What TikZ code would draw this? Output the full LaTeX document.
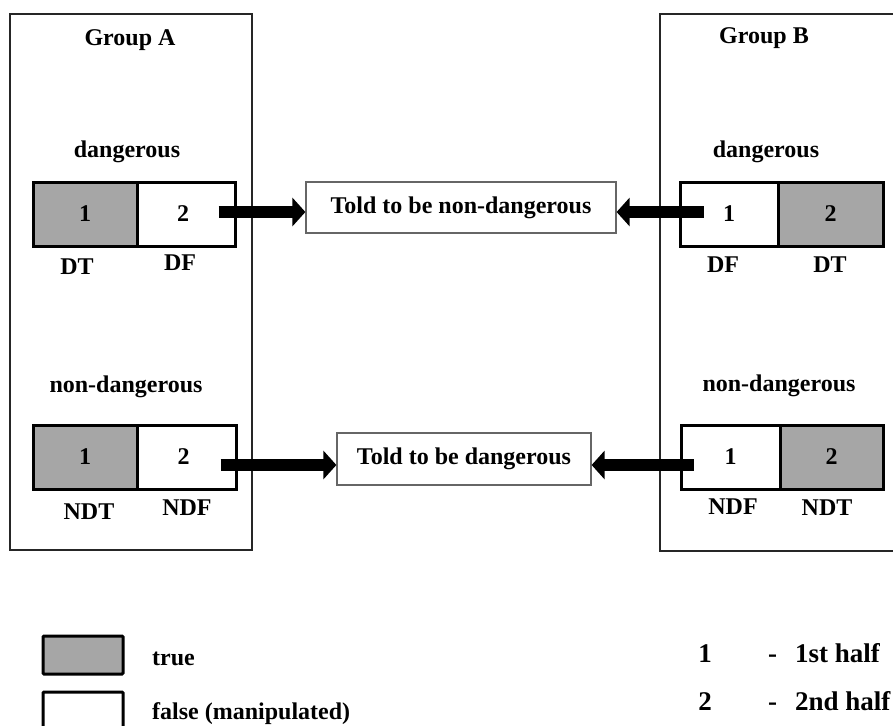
\documentclass[tikz,border=0pt]{standalone}
\usepackage{fontspec}
\setmainfont{Liberation Serif}
\usetikzlibrary{arrows.meta}
\definecolor{cellgray}{RGB}{166,166,166}
\begin{document}
\begin{tikzpicture}[x=1pt,y=-1pt,
  txt/.style={font=\fontsize{24}{28}\selectfont\bfseries, inner sep=0pt},
  bigtxt/.style={font=\fontsize{27}{31}\selectfont\bfseries, inner sep=0pt},
  groupbox/.style={draw=black!85, line width=1.6pt, inner sep=0pt},
  cell/.style={draw=black, line width=3pt, minimum height=64pt, inner sep=0pt, font=\fontsize{24}{28}\selectfont\bfseries},
  tcell/.style={cell, fill=cellgray},
  fcell/.style={cell, fill=white},
  msg/.style={draw=black!60, line width=1.2pt, fill=white, inner sep=0pt, font=\fontsize{24}{28}\selectfont\bfseries},
  bigarrow/.style={line width=12pt, -{Triangle[length=13pt,width=28pt]}},
  legbox/.style={draw=black, line width=3pt, rounded corners=1pt},
]
\useasboundingbox (0,0) rectangle (893,725);
\clip (0,0) rectangle (893,725);
\fill[white] (0,0) rectangle (893,725);

% group frames
\node[groupbox, minimum width=242pt, minimum height=536pt] (ga) at (131,282) {};
\node[groupbox, minimum width=250pt, minimum height=537pt] (gb) at (785,282.5) {};

% headings
\node[txt] (gat) at (130,40) {Group A};
\node[txt] (gbt) at (764,38) {Group B};
\node[txt] (ad) at (127,152) {dangerous};
\node[txt] (bd) at (766,152) {dangerous};
\node[txt] (and) at (126,387) {non-dangerous};
\node[txt] (bnd) at (779,386) {non-dangerous};

% messages
\node[msg, minimum width=310pt, minimum height=51pt] (m1) at (461,207.5) {Told to be non-dangerous};
\node[msg, minimum width=254pt, minimum height=52pt] (m2) at (464,459) {Told to be dangerous};

% Group A cells
\node[tcell, minimum width=104pt] (a11) at (85,214) {1};
\node[fcell, minimum width=98pt] (a12) at (186,214) {\hspace*{-6pt}2};
\node[tcell, minimum width=104pt] (a21) at (85,457) {1};
\node[fcell, minimum width=99pt] (a22) at (186.5,457) {\hspace*{-6pt}2};

% Group B cells
\node[fcell, minimum width=98pt] (b11) at (729,214) {1};
\node[tcell, minimum width=105pt] (b12) at (830.5,214) {2};
\node[fcell, minimum width=99pt] (b21) at (730.5,457) {1};
\node[tcell, minimum width=103pt] (b22) at (831.5,457) {2};

% cell labels
\node[txt] (ldt) at (77,267) {DT};
\node[txt] (ldf) at (180,263) {DF};
\node[txt] (rdf) at (723,265) {DF};
\node[txt] (rdt) at (830,265) {DT};
\node[txt] (lndt) at (89,512) {NDT};
\node[txt] (lndf) at (187,508) {NDF};
\node[txt] (rndf) at (733,507) {NDF};
\node[txt] (rndt) at (827,508) {NDT};

% arrows
\coordinate (ta1) at ([xshift=-18pt,yshift=2pt]a12.east);
\coordinate (tb1) at ([xshift=25pt,yshift=2pt]b11.west);
\coordinate (ta2) at ([xshift=-17pt,yshift=-8pt]a22.east);
\coordinate (tb2) at ([xshift=14pt,yshift=-8pt]b21.west);
\draw[bigarrow] (ta1) -- (ta1 -| m1.west);
\draw[bigarrow] (tb1) -- (tb1 -| m1.east);
\draw[bigarrow] (ta2) -- (ta2 -| m2.west);
\draw[bigarrow] (tb2) -- (tb2 -| m2.east);

% legend
\draw[legbox, fill=cellgray] (43,636) rectangle (123,674);
\draw[legbox, fill=white] (43,692) rectangle (123,745);
\node[txt, anchor=west] (ltrue) at (152,659) {true};
\node[txt, anchor=base west] (lfalse) at (152,719) {false (manipulated)};
\node[bigtxt, anchor=base] (k1) at (705,662) {1};
\node[bigtxt, anchor=base] (k2) at (705,710) {2};
\node[bigtxt, anchor=base west] (h1) at (768,662) {-\hspace{18pt}1st half};
\node[bigtxt, anchor=base west] (h2) at (768,710) {-\hspace{18pt}2nd half};
\end{tikzpicture}
\end{document}
